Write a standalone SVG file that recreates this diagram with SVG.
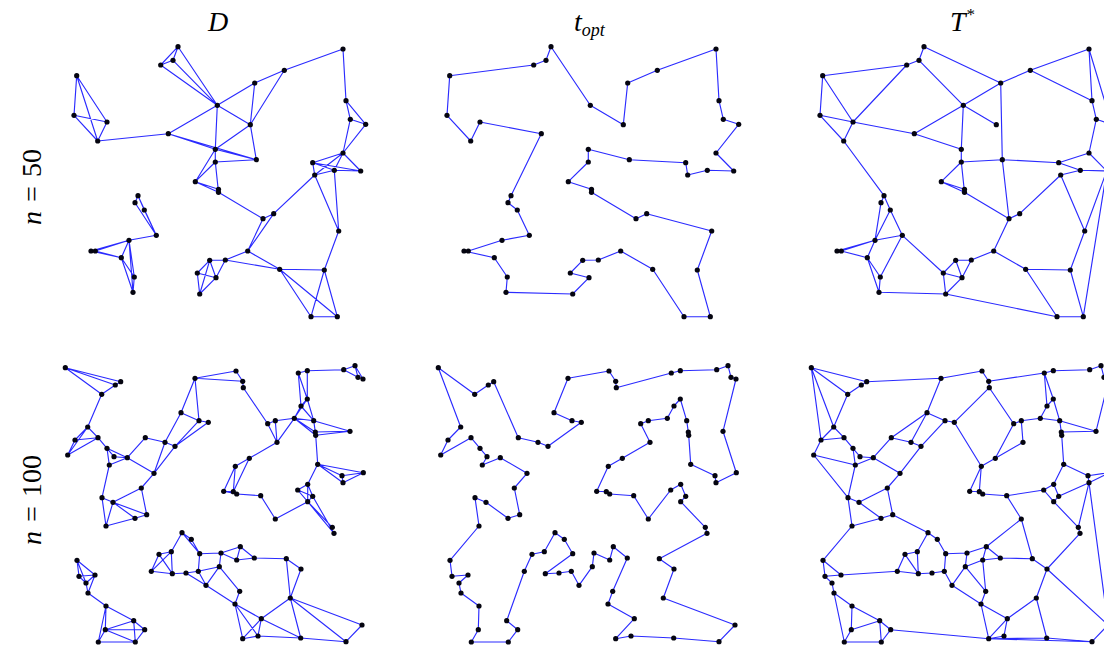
<svg xmlns="http://www.w3.org/2000/svg" width="1104" height="645" viewBox="0 0 1104 645">
<style>
.e{fill:none;stroke:#2b2bff;stroke-width:1.15;stroke-linejoin:round}
.nd circle{fill:#050510}
.lbl{font-family:"Liberation Serif","DejaVu Serif",serif;font-style:italic;font-size:28px;fill:#000}
.up{font-style:normal}
</style>
<defs>
<g id="n50" class="nd">
<circle cx="178" cy="46.7" r="2.6"/><circle cx="173" cy="60.3" r="2.6"/><circle cx="160.7" cy="65" r="2.6"/><circle cx="76.7" cy="75.7" r="2.6"/><circle cx="74" cy="115.3" r="2.6"/><circle cx="107" cy="122" r="2.6"/><circle cx="97.7" cy="141" r="2.6"/><circle cx="168.3" cy="133.7" r="2.6"/><circle cx="217.3" cy="105.3" r="2.6"/><circle cx="254.7" cy="83" r="2.6"/><circle cx="284.3" cy="70.3" r="2.6"/><circle cx="343" cy="49" r="2.6"/><circle cx="250.3" cy="124.7" r="2.6"/><circle cx="215.3" cy="149.3" r="2.6"/><circle cx="256.3" cy="159.7" r="2.6"/><circle cx="215.3" cy="162" r="2.6"/><circle cx="195.3" cy="181.7" r="2.6"/><circle cx="346" cy="100.7" r="2.6"/><circle cx="350.3" cy="119.3" r="2.6"/><circle cx="365.7" cy="124.3" r="2.6"/><circle cx="343" cy="153" r="2.6"/><circle cx="312.7" cy="162.7" r="2.6"/><circle cx="334.3" cy="170.3" r="2.6"/><circle cx="360.7" cy="171" r="2.6"/><circle cx="314.7" cy="175" r="2.6"/><circle cx="218.5" cy="189.3" r="2.6"/><circle cx="218.5" cy="192.3" r="2.6"/><circle cx="138" cy="195.7" r="2.6"/><circle cx="135" cy="202.7" r="2.6"/><circle cx="144.3" cy="210" r="2.6"/><circle cx="156.3" cy="235.3" r="2.6"/><circle cx="129" cy="240.3" r="2.6"/><circle cx="91" cy="251" r="2.6"/><circle cx="95.3" cy="251" r="2.6"/><circle cx="121.3" cy="257.7" r="2.6"/><circle cx="134.3" cy="277" r="2.6"/><circle cx="133" cy="292.3" r="2.6"/><circle cx="263" cy="218.7" r="2.6"/><circle cx="273.7" cy="213.7" r="2.6"/><circle cx="338.7" cy="231" r="2.6"/><circle cx="247.7" cy="251" r="2.6"/><circle cx="209.7" cy="260.3" r="2.6"/><circle cx="225.3" cy="260" r="2.6"/><circle cx="197.3" cy="273" r="2.6"/><circle cx="216" cy="277.7" r="2.6"/><circle cx="199.7" cy="294" r="2.6"/><circle cx="279.7" cy="269.3" r="2.6"/><circle cx="324.3" cy="270" r="2.6"/><circle cx="311" cy="316.7" r="2.6"/><circle cx="337.3" cy="316.7" r="2.6"/>
</g>
<g id="n100" class="nd">
<circle cx="65.3" cy="367.7" r="2.6"/><circle cx="115.3" cy="385" r="2.6"/><circle cx="120.7" cy="381.7" r="2.6"/><circle cx="101.7" cy="394.3" r="2.6"/><circle cx="87.7" cy="427" r="2.6"/><circle cx="75" cy="440" r="2.6"/><circle cx="98" cy="437.7" r="2.6"/><circle cx="67.7" cy="455" r="2.6"/><circle cx="107" cy="448.3" r="2.6"/><circle cx="114" cy="456.7" r="2.6"/><circle cx="109.3" cy="465" r="2.6"/><circle cx="127.3" cy="457.7" r="2.6"/><circle cx="145.3" cy="437.7" r="2.6"/><circle cx="165" cy="442.3" r="2.6"/><circle cx="175" cy="446.3" r="2.6"/><circle cx="154" cy="473.3" r="2.6"/><circle cx="141.3" cy="488" r="2.6"/><circle cx="102" cy="497.7" r="2.6"/><circle cx="113" cy="502.3" r="2.6"/><circle cx="195" cy="378.3" r="2.6"/><circle cx="236" cy="371" r="2.6"/><circle cx="242.7" cy="381.3" r="2.6"/><circle cx="243.3" cy="387.7" r="2.6"/><circle cx="181" cy="412.7" r="2.6"/><circle cx="199" cy="420.7" r="2.6"/><circle cx="208.3" cy="422.3" r="2.6"/><circle cx="267.7" cy="423.7" r="2.6"/><circle cx="275.3" cy="420.7" r="2.6"/><circle cx="294.3" cy="418.3" r="2.6"/><circle cx="277" cy="442.3" r="2.6"/><circle cx="298.3" cy="373" r="2.6"/><circle cx="307.3" cy="370.7" r="2.6"/><circle cx="343.7" cy="369.7" r="2.6"/><circle cx="355" cy="365.7" r="2.6"/><circle cx="358" cy="377.3" r="2.6"/><circle cx="363" cy="379" r="2.6"/><circle cx="307.3" cy="399" r="2.6"/><circle cx="301" cy="406" r="2.6"/><circle cx="313.7" cy="420.7" r="2.6"/><circle cx="315.3" cy="432" r="2.6"/><circle cx="315.7" cy="435.3" r="2.6"/><circle cx="350" cy="431.3" r="2.6"/><circle cx="317.7" cy="464.3" r="2.6"/><circle cx="363.3" cy="472.7" r="2.6"/><circle cx="342" cy="475.7" r="2.6"/><circle cx="343" cy="482.7" r="2.6"/><circle cx="249.3" cy="458.3" r="2.6"/><circle cx="235.3" cy="466.3" r="2.6"/><circle cx="223.7" cy="491.3" r="2.6"/><circle cx="233.3" cy="491.7" r="2.6"/><circle cx="236.7" cy="494" r="2.6"/><circle cx="260.7" cy="495.7" r="2.6"/><circle cx="307.7" cy="484.3" r="2.6"/><circle cx="297.7" cy="490" r="2.6"/><circle cx="312.7" cy="496.3" r="2.6"/><circle cx="307.7" cy="501.7" r="2.6"/><circle cx="135" cy="518.3" r="2.6"/><circle cx="146.7" cy="514.7" r="2.6"/><circle cx="106" cy="526" r="2.6"/><circle cx="275.3" cy="519" r="2.6"/><circle cx="332.3" cy="527.3" r="2.6"/><circle cx="334" cy="533.3" r="2.6"/><circle cx="182" cy="532.7" r="2.6"/><circle cx="191.3" cy="539.3" r="2.6"/><circle cx="159" cy="554.3" r="2.6"/><circle cx="171.3" cy="551.7" r="2.6"/><circle cx="151.3" cy="571.3" r="2.6"/><circle cx="172.3" cy="573.7" r="2.6"/><circle cx="186" cy="573" r="2.6"/><circle cx="198.3" cy="571.3" r="2.6"/><circle cx="199.7" cy="553.7" r="2.6"/><circle cx="221" cy="553" r="2.6"/><circle cx="240.3" cy="546.7" r="2.6"/><circle cx="236.7" cy="560" r="2.6"/><circle cx="254.3" cy="558" r="2.6"/><circle cx="219.3" cy="566.7" r="2.6"/><circle cx="206" cy="585.3" r="2.6"/><circle cx="239.7" cy="591.3" r="2.6"/><circle cx="235" cy="604" r="2.6"/><circle cx="286.3" cy="558.7" r="2.6"/><circle cx="301" cy="569" r="2.6"/><circle cx="290.3" cy="598" r="2.6"/><circle cx="261.3" cy="618.7" r="2.6"/><circle cx="362" cy="625" r="2.6"/><circle cx="242.7" cy="638.7" r="2.6"/><circle cx="258" cy="636" r="2.6"/><circle cx="300.7" cy="638" r="2.6"/><circle cx="346" cy="641.7" r="2.6"/><circle cx="77" cy="560.3" r="2.6"/><circle cx="79" cy="576.3" r="2.6"/><circle cx="95" cy="575" r="2.6"/><circle cx="86" cy="583" r="2.6"/><circle cx="88" cy="593" r="2.6"/><circle cx="106" cy="606" r="2.6"/><circle cx="133.7" cy="620.7" r="2.6"/><circle cx="144.7" cy="629.7" r="2.6"/><circle cx="105.3" cy="629.7" r="2.6"/><circle cx="98.3" cy="642" r="2.6"/><circle cx="135.3" cy="642" r="2.6"/>
</g>
</defs>
<rect width="1104" height="645" fill="#fff"/>
<g id="labels">
<text class="lbl" x="218" y="31" text-anchor="middle">D</text>
<text class="lbl" x="574" y="31">t<tspan font-size="18" dy="5">opt</tspan></text>
<text class="lbl" x="950" y="31">T<tspan class="up" font-size="17" dx="1" dy="-11">*</tspan></text>
<text class="lbl" transform="translate(41,187) rotate(-90)" text-anchor="middle">n<tspan class="up" dx="9">=</tspan><tspan class="up" dx="9">50</tspan></text>
<text class="lbl" transform="translate(41,500) rotate(-90)" text-anchor="middle">n<tspan class="up" dx="9">=</tspan><tspan class="up" dx="9">100</tspan></text>
</g>
<g id="connectors">
<path id="edges-D-50" class="e" d="M76.7 75.7L74 115.3M76.7 75.7L107 122M76.7 75.7L97.7 141M74 115.3L107 122M74 115.3L97.7 141M107 122L97.7 141M97.7 141L168.3 133.7M178 46.7L173 60.3M178 46.7L160.7 65M173 60.3L160.7 65M178 46.7L217.3 105.3M173 60.3L217.3 105.3M160.7 65L217.3 105.3M168.3 133.7L217.3 105.3M168.3 133.7L215.3 149.3M168.3 133.7L256.3 159.7M217.3 105.3L254.7 83M217.3 105.3L250.3 124.7M217.3 105.3L215.3 149.3M254.7 83L284.3 70.3M254.7 83L250.3 124.7M284.3 70.3L250.3 124.7M284.3 70.3L343 49M250.3 124.7L215.3 149.3M250.3 124.7L256.3 159.7M215.3 149.3L256.3 159.7M215.3 149.3L215.3 162M215.3 149.3L195.3 181.7M256.3 159.7L215.3 162M215.3 162L195.3 181.7M343 49L346 100.7M346 100.7L350.3 119.3M346 100.7L365.7 124.3M350.3 119.3L365.7 124.3M365.7 124.3L343 153M350.3 119.3L343 153M343 153L312.7 162.7M343 153L334.3 170.3M343 153L360.7 171M343 153L314.7 175M312.7 162.7L334.3 170.3M312.7 162.7L360.7 171M312.7 162.7L314.7 175M334.3 170.3L360.7 171M334.3 170.3L314.7 175M195.3 181.7L218.5 189.3M195.3 181.7L218.5 192.3M218.5 189.3L218.5 192.3M215.3 162L218.5 192.3M218.5 192.3L263 218.7M263 218.7L273.7 213.7M263 218.7L247.7 251M273.7 213.7L247.7 251M273.7 213.7L314.7 175M338.7 231L314.7 175M338.7 231L334.3 170.3M247.7 251L225.3 260M247.7 251L279.7 269.3M225.3 260L279.7 269.3M209.7 260.3L225.3 260M209.7 260.3L197.3 273M209.7 260.3L216 277.7M209.7 260.3L199.7 294M225.3 260L216 277.7M197.3 273L216 277.7M197.3 273L199.7 294M216 277.7L199.7 294M279.7 269.3L324.3 270M279.7 269.3L311 316.7M279.7 269.3L337.3 316.7M324.3 270L311 316.7M324.3 270L337.3 316.7M311 316.7L337.3 316.7M324.3 270L338.7 231M138 195.7L135 202.7M138 195.7L156.3 235.3M135 202.7L156.3 235.3M144.3 210L156.3 235.3M138 195.7L144.3 210M156.3 235.3L129 240.3M129 240.3L91 251M129 240.3L95.3 251M129 240.3L121.3 257.7M91 251L121.3 257.7M95.3 251L121.3 257.7M129 240.3L134.3 277M129 240.3L133 292.3M121.3 257.7L134.3 277M121.3 257.7L133 292.3M134.3 277L133 292.3"/>
<path id="edges-topt-50" class="e" transform="translate(373,0)" d="M76.7 75.7L74 115.3L97.7 141L107 122L168.3 133.7L138 195.7L135 202.7L144.3 210L156.3 235.3L129 240.3L95.3 251L91 251L121.3 257.7L134.3 277L133 292.3L199.7 294L216 277.7L197.3 273L209.7 260.3L225.3 260L247.7 251L279.7 269.3L311 316.7L337.3 316.7L324.3 270L338.7 231L273.7 213.7L263 218.7L218.5 192.3L218.5 189.3L195.3 181.7L215.3 162L215.3 149.3L256.3 159.7L312.7 162.7L314.7 175L334.3 170.3L360.7 171L343 153L365.7 124.3L350.3 119.3L346 100.7L343 49L284.3 70.3L254.7 83L250.3 124.7L217.3 105.3L178 46.7L173 60.3L160.7 65Z"/>
<path id="edges-T-50" class="e" transform="translate(746,0)" d="M160.7 65L76.7 75.7M76.7 75.7L74 115.3M76.7 75.7L107 122M74 115.3L107 122M107 122L168.3 133.7M74 115.3L97.7 141M107 122L97.7 141M160.7 65L107 122M97.7 141L138 195.7M178 46.7L173 60.3M173 60.3L160.7 65M178 46.7L254.7 83M173 60.3L217.3 105.3M217.3 105.3L254.7 83M168.3 133.7L217.3 105.3M217.3 105.3L250.3 124.7M217.3 105.3L215.3 149.3M254.7 83L284.3 70.3M254.7 83L256.3 159.7M284.3 70.3L346 100.7M284.3 70.3L343 49M343 49L346 100.7M343 49L365.7 124.3M346 100.7L350.3 119.3M350.3 119.3L365.7 124.3M350.3 119.3L343 153M168.3 133.7L215.3 149.3M215.3 149.3L215.3 162M215.3 162L256.3 159.7M256.3 159.7L312.7 162.7M312.7 162.7L343 153M312.7 162.7L334.3 170.3M334.3 170.3L314.7 175M343 153L360.7 171M334.3 170.3L360.7 171M215.3 162L195.3 181.7M215.3 162L218.5 192.3M195.3 181.7L218.5 189.3M195.3 181.7L218.5 192.3M218.5 189.3L218.5 192.3M218.5 192.3L263 218.7M256.3 159.7L263 218.7M263 218.7L273.7 213.7M273.7 213.7L314.7 175M263 218.7L247.7 251M338.7 231L314.7 175M338.7 231L360.7 171M247.7 251L225.3 260M247.7 251L279.7 269.3M209.7 260.3L225.3 260M209.7 260.3L197.3 273M209.7 260.3L216 277.7M225.3 260L216 277.7M197.3 273L216 277.7M197.3 273L199.7 294M216 277.7L199.7 294M197.3 273L156.3 235.3M199.7 294L133 292.3M199.7 294L311 316.7M279.7 269.3L324.3 270M279.7 269.3L311 316.7M324.3 270L338.7 231M324.3 270L337.3 316.7M311 316.7L337.3 316.7M337.3 316.7L360.7 171M138 195.7L135 202.7M138 195.7L144.3 210M135 202.7L129 240.3M144.3 210L129 240.3M144.3 210L156.3 235.3M156.3 235.3L129 240.3M156.3 235.3L134.3 277M129 240.3L91 251M129 240.3L95.3 251M91 251L95.3 251M129 240.3L121.3 257.7M95.3 251L121.3 257.7M121.3 257.7L134.3 277M121.3 257.7L133 292.3M134.3 277L133 292.3"/>
<path id="edges-D-100" class="e" d="M65.3 367.7L115.3 385M65.3 367.7L120.7 381.7M65.3 367.7L101.7 394.3M115.3 385L120.7 381.7M115.3 385L101.7 394.3M101.7 394.3L87.7 427M87.7 427L75 440M87.7 427L98 437.7M87.7 427L67.7 455M75 440L98 437.7M75 440L67.7 455M98 437.7L67.7 455M98 437.7L107 448.3M107 448.3L114 456.7M107 448.3L109.3 465M107 448.3L127.3 457.7M114 456.7L127.3 457.7M109.3 465L127.3 457.7M127.3 457.7L145.3 437.7M127.3 457.7L154 473.3M109.3 465L102 497.7M145.3 437.7L165 442.3M165 442.3L175 446.3M165 442.3L154 473.3M175 446.3L154 473.3M165 442.3L181 412.7M175 446.3L208.3 422.3M175 446.3L199 420.7M181 412.7L199 420.7M199 420.7L208.3 422.3M195 378.3L181 412.7M195 378.3L199 420.7M195 378.3L236 371M195 378.3L242.7 381.3M236 371L242.7 381.3M242.7 381.3L243.3 387.7M243.3 387.7L267.7 423.7M267.7 423.7L275.3 420.7M267.7 423.7L277 442.3M275.3 420.7L277 442.3M275.3 420.7L294.3 418.3M294.3 418.3L277 442.3M294.3 418.3L307.3 399M294.3 418.3L301 406M294.3 418.3L313.7 420.7M294.3 418.3L315.3 432M294.3 418.3L315.7 435.3M298.3 373L307.3 370.7M298.3 373L307.3 399M298.3 373L301 406M307.3 370.7L307.3 399M307.3 370.7L343.7 369.7M343.7 369.7L355 365.7M343.7 369.7L358 377.3M355 365.7L358 377.3M355 365.7L363 379M358 377.3L363 379M307.3 399L301 406M307.3 399L313.7 420.7M301 406L313.7 420.7M313.7 420.7L315.3 432M313.7 420.7L350 431.3M315.3 432L350 431.3M315.7 435.3L350 431.3M315.7 435.3L317.7 464.3M317.7 464.3L363.3 472.7M317.7 464.3L342 475.7M317.7 464.3L343 482.7M363.3 472.7L342 475.7M363.3 472.7L343 482.7M342 475.7L343 482.7M317.7 464.3L307.7 484.3M277 442.3L249.3 458.3M249.3 458.3L235.3 466.3M249.3 458.3L233.3 491.7M235.3 466.3L223.7 491.3M235.3 466.3L233.3 491.7M223.7 491.3L233.3 491.7M223.7 491.3L236.7 494M233.3 491.7L236.7 494M236.7 494L260.7 495.7M260.7 495.7L275.3 519M307.7 484.3L297.7 490M307.7 484.3L312.7 496.3M307.7 484.3L307.7 501.7M297.7 490L312.7 496.3M297.7 490L307.7 501.7M312.7 496.3L307.7 501.7M307.7 501.7L275.3 519M307.7 501.7L332.3 527.3M307.7 501.7L334 533.3M312.7 496.3L334 533.3M102 497.7L113 502.3M102 497.7L106 526M113 502.3L106 526M113 502.3L135 518.3M113 502.3L146.7 514.7M135 518.3L146.7 514.7M135 518.3L106 526M141.3 488L113 502.3M141.3 488L146.7 514.7M154 473.3L141.3 488M182 532.7L191.3 539.3M182 532.7L171.3 551.7M191.3 539.3L199.7 553.7M182 532.7L199.7 553.7M159 554.3L171.3 551.7M159 554.3L151.3 571.3M159 554.3L172.3 573.7M171.3 551.7L172.3 573.7M151.3 571.3L172.3 573.7M171.3 551.7L151.3 571.3M172.3 573.7L186 573M186 573L198.3 571.3M198.3 571.3L199.7 553.7M199.7 553.7L221 553M198.3 571.3L219.3 566.7M198.3 571.3L206 585.3M186 573L206 585.3M221 553L240.3 546.7M221 553L236.7 560M221 553L219.3 566.7M240.3 546.7L236.7 560M240.3 546.7L254.3 558M236.7 560L254.3 558M219.3 566.7L206 585.3M219.3 566.7L239.7 591.3M206 585.3L235 604M239.7 591.3L235 604M254.3 558L286.3 558.7M286.3 558.7L301 569M286.3 558.7L290.3 598M301 569L290.3 598M290.3 598L261.3 618.7M290.3 598L362 625M290.3 598L300.7 638M290.3 598L346 641.7M235 604L261.3 618.7M235 604L242.7 638.7M235 604L258 636M261.3 618.7L242.7 638.7M261.3 618.7L258 636M261.3 618.7L300.7 638M242.7 638.7L258 636M258 636L300.7 638M300.7 638L346 641.7M362 625L346 641.7M77 560.3L79 576.3M77 560.3L95 575M77 560.3L86 583M79 576.3L95 575M79 576.3L86 583M95 575L86 583M95 575L88 593M86 583L88 593M88 593L106 606M106 606L133.7 620.7M106 606L105.3 629.7M106 606L98.3 642M133.7 620.7L144.7 629.7M133.7 620.7L105.3 629.7M133.7 620.7L135.3 642M144.7 629.7L105.3 629.7M144.7 629.7L135.3 642M105.3 629.7L98.3 642M105.3 629.7L135.3 642M98.3 642L135.3 642"/>
<path id="edges-topt-100" class="e" transform="translate(373,0)" d="M65.3 367.7L101.7 394.3L115.3 385L120.7 381.7L145.3 437.7L165 442.3L175 446.3L208.3 422.3L199 420.7L181 412.7L195 378.3L236 371L242.7 381.3L243.3 387.7L298.3 373L307.3 370.7L343.7 369.7L355 365.7L358 377.3L363 379L350 431.3L363.3 472.7L343 482.7L342 475.7L317.7 464.3L315.7 435.3L315.3 432L313.7 420.7L307.3 399L301 406L294.3 418.3L275.3 420.7L267.7 423.7L277 442.3L249.3 458.3L235.3 466.3L223.7 491.3L233.3 491.7L236.7 494L260.7 495.7L275.3 519L297.7 490L307.7 484.3L312.7 496.3L307.7 501.7L332.3 527.3L334 533.3L286.3 558.7L301 569L290.3 598L362 625L346 641.7L300.7 638L258 636L242.7 638.7L261.3 618.7L235 604L239.7 591.3L254.3 558L240.3 546.7L236.7 560L221 553L219.3 566.7L206 585.3L198.3 571.3L186 573L172.3 573.7L199.7 553.7L191.3 539.3L182 532.7L171.3 551.7L159 554.3L151.3 571.3L133.7 620.7L144.7 629.7L135.3 642L98.3 642L105.3 629.7L106 606L88 593L86 583L95 575L79 576.3L77 560.3L106 526L102 497.7L113 502.3L135 518.3L146.7 514.7L141.3 488L154 473.3L127.3 457.7L109.3 465L114 456.7L107 448.3L98 437.7L67.7 455L75 440L87.7 427Z"/>
<path id="edges-T-100" class="e" transform="translate(746,0)" d="M65.3 367.7L120.7 381.7M65.3 367.7L101.7 394.3M65.3 367.7L87.7 427M65.3 367.7L75 440M115.3 385L120.7 381.7M115.3 385L101.7 394.3M120.7 381.7L195 378.3M101.7 394.3L87.7 427M87.7 427L75 440M87.7 427L98 437.7M75 440L98 437.7M75 440L67.7 455M98 437.7L107 448.3M67.7 455L109.3 465M67.7 455L102 497.7M107 448.3L114 456.7M107 448.3L109.3 465M114 456.7L127.3 457.7M109.3 465L127.3 457.7M109.3 465L102 497.7M127.3 457.7L145.3 437.7M127.3 457.7L154 473.3M145.3 437.7L165 442.3M145.3 437.7L181 412.7M165 442.3L181 412.7M165 442.3L175 446.3M175 446.3L199 420.7M175 446.3L154 473.3M154 473.3L141.3 488M141.3 488L113 502.3M181 412.7L199 420.7M195 378.3L181 412.7M195 378.3L236 371M236 371L242.7 381.3M242.7 381.3L243.3 387.7M242.7 381.3L298.3 373M243.3 387.7L208.3 422.3M243.3 387.7L267.7 423.7M199 420.7L208.3 422.3M208.3 422.3L235.3 466.3M267.7 423.7L275.3 420.7M267.7 423.7L249.3 458.3M275.3 420.7L294.3 418.3M275.3 420.7L277 442.3M277 442.3L249.3 458.3M249.3 458.3L235.3 466.3M294.3 418.3L301 406M294.3 418.3L313.7 420.7M298.3 373L307.3 370.7M298.3 373L307.3 399M298.3 373L301 406M307.3 370.7L343.7 369.7M343.7 369.7L355 365.7M355 365.7L358 377.3M358 377.3L363 379M307.3 399L301 406M307.3 399L313.7 420.7M313.7 420.7L315.3 432M313.7 420.7L350 431.3M315.3 432L350 431.3M315.7 435.3L317.7 464.3M350 431.3L363 379M317.7 464.3L342 475.7M317.7 464.3L307.7 484.3M342 475.7L343 482.7M342 475.7L363.3 472.7M343 482.7L363.3 472.7M312.7 496.3L343 482.7M343 482.7L332.3 527.3M343 482.7L362 625M235.3 466.3L223.7 491.3M235.3 466.3L233.3 491.7M223.7 491.3L233.3 491.7M233.3 491.7L236.7 494M236.7 494L260.7 495.7M260.7 495.7L297.7 490M307.7 484.3L297.7 490M307.7 484.3L312.7 496.3M297.7 490L307.7 501.7M312.7 496.3L307.7 501.7M307.7 501.7L332.3 527.3M332.3 527.3L334 533.3M334 533.3L301 569M260.7 495.7L275.3 519M275.3 519L286.3 558.7M275.3 519L240.3 546.7M102 497.7L113 502.3M102 497.7L106 526M113 502.3L135 518.3M135 518.3L106 526M135 518.3L146.7 514.7M141.3 488L146.7 514.7M146.7 514.7L182 532.7M182 532.7L191.3 539.3M182 532.7L171.3 551.7M191.3 539.3L199.7 553.7M159 554.3L171.3 551.7M171.3 551.7L172.3 573.7M159 554.3L151.3 571.3M159 554.3L172.3 573.7M151.3 571.3L172.3 573.7M151.3 571.3L95 575M172.3 573.7L186 573M186 573L198.3 571.3M198.3 571.3L199.7 553.7M198.3 571.3L206 585.3M199.7 553.7L221 553M221 553L240.3 546.7M221 553L219.3 566.7M240.3 546.7L236.7 560M240.3 546.7L254.3 558M236.7 560L254.3 558M236.7 560L219.3 566.7M236.7 560L239.7 591.3M219.3 566.7L206 585.3M219.3 566.7L239.7 591.3M206 585.3L235 604M239.7 591.3L235 604M235 604L261.3 618.7M235 604L242.7 638.7M254.3 558L286.3 558.7M286.3 558.7L301 569M301 569L290.3 598M301 569L362 625M290.3 598L261.3 618.7M290.3 598L300.7 638M261.3 618.7L242.7 638.7M261.3 618.7L258 636M242.7 638.7L258 636M242.7 638.7L300.7 638M242.7 638.7L346 641.7M300.7 638L346 641.7M346 641.7L362 625M106 526L77 560.3M77 560.3L79 576.3M77 560.3L95 575M79 576.3L95 575M79 576.3L86 583M86 583L88 593M88 593L106 606M88 593L98.3 642M106 606L105.3 629.7M106 606L133.7 620.7M133.7 620.7L144.7 629.7M133.7 620.7L105.3 629.7M133.7 620.7L135.3 642M144.7 629.7L135.3 642M144.7 629.7L242.7 638.7M105.3 629.7L98.3 642M98.3 642L135.3 642"/>
</g>
<g id="node-D-50"><use href="#n50"/></g>
<g id="node-topt-50"><use href="#n50" transform="translate(373,0)"/></g>
<g id="node-T-50"><use href="#n50" transform="translate(746,0)"/></g>
<g id="node-D-100"><use href="#n100"/></g>
<g id="node-topt-100"><use href="#n100" transform="translate(373,0)"/></g>
<g id="node-T-100"><use href="#n100" transform="translate(746,0)"/></g>
</svg>
